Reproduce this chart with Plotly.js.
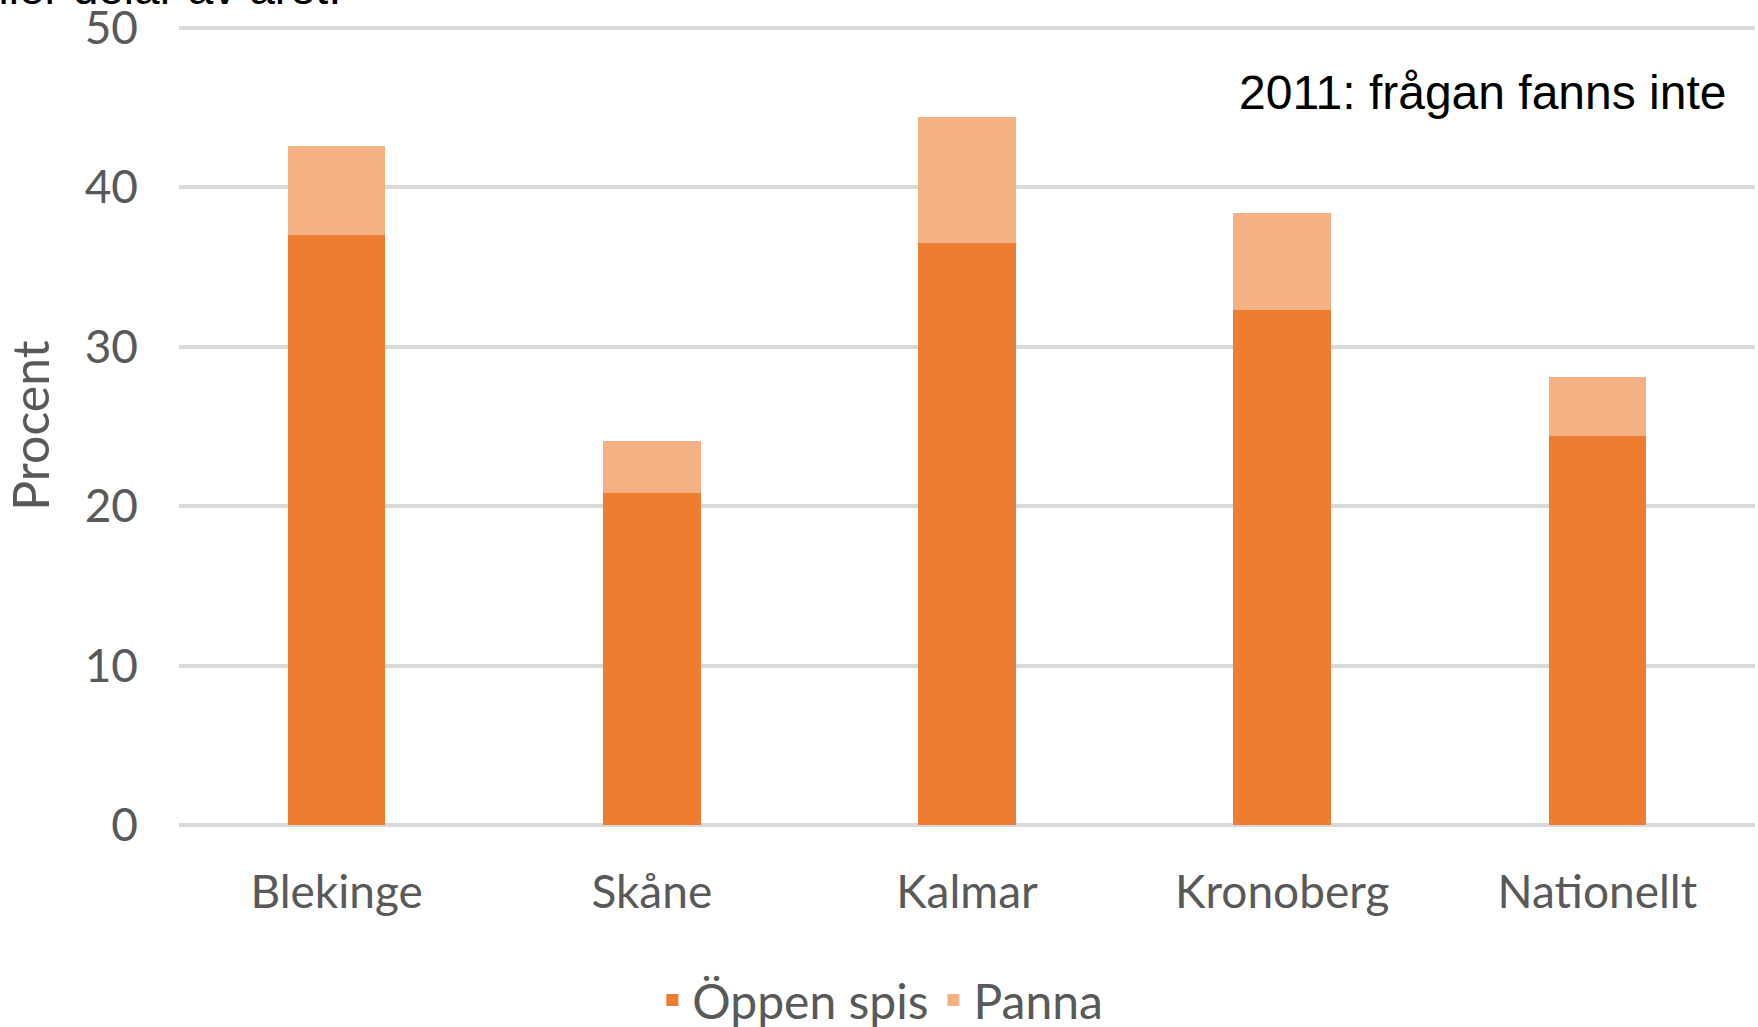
<!DOCTYPE html>
<html>
<head>
<meta charset="utf-8">
<script src="https://cdn.plot.ly/plotly-3.0.1.min.js"></script>
<style>
  html, body { margin: 0; padding: 0; background: #fff; overflow: hidden; }
  #chart { width: 1758px; height: 1027px; }
</style>
</head>
<body>
<div id="chart"></div>
<script>
// Andel som eldar i öppen spis / panna per län
const regions = ['Blekinge', 'Skåne', 'Kalmar', 'Kronoberg', 'Nationellt'];
const oppenSpis = [37.0, 20.8, 36.5, 32.3, 24.4];
const panna = [5.6, 3.3, 7.9, 6.1, 3.7];
const yTicks = [0, 10, 20, 30, 40, 50];

const labelFont = { family: 'Lato, "Open Sans", sans-serif', size: 46, color: '#595959' };

const traces = [
    {
        type: 'bar',
        name: 'Öppen spis',
        x: regions,
        y: oppenSpis,
        marker: { color: '#ED7D31' }
    },
    {
        type: 'bar',
        name: 'Panna',
        x: regions,
        y: panna,
        marker: { color: '#F4B183' }
    }
];

const layout = {
    width: 1758,
    height: 1027,
    barmode: 'stack',
    bargap: 0.69,
    paper_bgcolor: '#ffffff',
    plot_bgcolor: '#ffffff',
    margin: { l: 179, r: 3, t: 26, b: 202 },
    font: labelFont,
    showlegend: true,
    legend: {
        orientation: 'h',
        x: 0.445,
        xanchor: 'center',
        yref: 'container',
        y: 0.026,
        yanchor: 'middle',
        font: { family: labelFont.family, size: 48, color: '#595959' },
        traceorder: 'normal'
    },
    xaxis: {
        tickfont: labelFont,
        showgrid: false,
        zeroline: false,
        showline: false,
        ticklabelstandoff: 36,
        automargin: false,
        fixedrange: true
    },
    yaxis: {
        range: [0, 50.1],
        tickvals: yTicks,
        tickfont: labelFont,
        showgrid: true,
        gridcolor: '#D9D9D9',
        gridwidth: 4,
        zeroline: true,
        zerolinecolor: '#D9D9D9',
        zerolinewidth: 4,
        showline: false,
        ticklabelstandoff: 40,
        ticklabeloverflow: 'allow',
        automargin: 'left',
        title: { text: 'Procent', font: { family: labelFont.family, size: 50, color: '#595959' }, standoff: 20 },
        fixedrange: true
    },
    annotations: [
        {
            text: '2011: frågan fanns inte',
            xref: 'paper', yref: 'paper',
            x: 0.983, y: 0.917,
            xanchor: 'right', yanchor: 'middle',
            showarrow: false,
            font: { family: '"Liberation Sans", Arial, sans-serif', size: 48, color: '#000000' }
        },
        {
            text: 'eller delar av året.',
            xref: 'paper', yref: 'paper',
            x: -0.132, y: 1.047,
            xanchor: 'left', yanchor: 'middle',
            showarrow: false,
            font: { family: '"Liberation Sans", Arial, sans-serif', size: 46, color: '#000000' }
        }
    ]
};

Plotly.newPlot('chart', traces, layout, { displayModeBar: false, staticPlot: true });
</script>
</body>
</html>
